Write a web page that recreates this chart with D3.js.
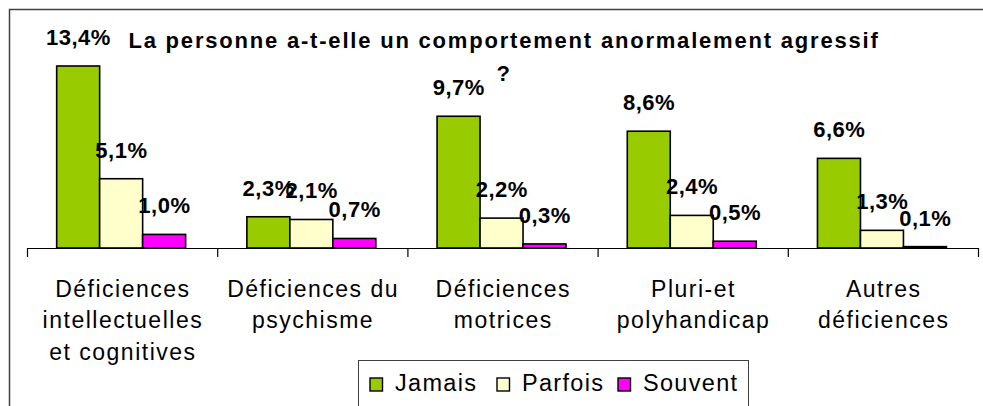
<!DOCTYPE html>
<html>
<head>
<meta charset="utf-8">
<script src="https://cdn.jsdelivr.net/npm/d3@7"></script>
<style>
  html, body { margin: 0; padding: 0; background: #fff; }
  svg { display: block; }
  text { font-family: "Liberation Sans", Arial, sans-serif; fill: #000; }
</style>
</head>
<body>
<svg id="chart" width="983" height="406"></svg>
<script>
// ---- data ----
const categories = [
  "Déficiences\nintellectuelles\net cognitives",
  "Déficiences du\npsychisme",
  "Déficiences\nmotrices",
  "Pluri-et\npolyhandicap",
  "Autres\ndéficiences"
];
const seriesNames = ["Jamais", "Parfois", "Souvent"];
const jamais  = [13.4, 2.3, 9.7, 8.6, 6.6];
const parfois = [5.1, 2.1, 2.2, 2.4, 1.3];
const souvent = [1.0, 0.7, 0.3, 0.5, 0.1];
const titleLines = ["La personne a-t-elle un comportement anormalement agressif", "?"];

// ---- styles ----
const colors = ["#99CC00", "#FFFFCC", "#FF00FF"];
const seriesValues = [jamais, parfois, souvent];
const fmt = v => v.toFixed(1).replace(".", ",") + "%";

const svg = d3.select("#chart");

// outer frame (top and left visible)
svg.append("path")
  .attr("d", "M9.5,406 L9.5,9.5 L983,9.5")
  .attr("fill", "none").attr("stroke", "#404040").attr("stroke-width", 1.5);

const x0 = d3.scaleBand().domain(d3.range(categories.length)).range([27, 978]).padding(0);
const bw = x0.bandwidth();
const x1 = d3.scaleBand().domain(d3.range(seriesNames.length))
  .range([bw * 0.156, bw * 0.834]).padding(0);
const y = d3.scaleLinear().domain([0, 13.4]).range([248, 66]);

// bars
const groups = svg.append("g").selectAll("g")
  .data(categories.map((c, i) => i))
  .join("g")
  .attr("transform", i => `translate(${x0(i)},0)`);

groups.selectAll("rect")
  .data(i => seriesValues.map((s, k) => ({k, v: s[i]})))
  .join("rect")
  .attr("x", d => x1(d.k))
  .attr("y", d => y(d.v))
  .attr("width", x1.bandwidth())
  .attr("height", d => y(0) - y(d.v))
  .attr("fill", d => colors[d.k])
  .attr("stroke", "#000")
  .attr("stroke-width", 1.6);

// data labels
groups.selectAll("text.lbl")
  .data(i => seriesValues.map((s, k) => ({k, v: s[i]})))
  .join("text")
  .attr("class", "lbl")
  .attr("x", d => x1(d.k) + x1.bandwidth() / 2 + 0.3)
  .attr("y", d => y(d.v) - 21)
  .attr("text-anchor", "middle")
  .style("font-size", "22px")
  .style("font-weight", "bold")
  .style("letter-spacing", "0.5px")
  .text(d => fmt(d.v));

// axis baseline with ticks between categories
const axis = d3.axisBottom(d3.scaleLinear().domain([0, categories.length]).range([27, 978]))
  .ticks(categories.length).tickSize(9).tickFormat("").tickSizeOuter(0);
const ax = svg.append("g").attr("transform", "translate(0,248)").call(axis);
ax.select(".domain").attr("stroke", "#000").attr("stroke-width", 1.2);
ax.selectAll(".tick line").attr("stroke", "#000").attr("stroke-width", 1.2);

// category labels
const catLabels = svg.append("g").selectAll("text")
  .data(categories)
  .join("text")
  .attr("text-anchor", "middle")
  .style("font-size", "23px")
  .style("letter-spacing", "1.5px")
  .attr("y", 296.5);
catLabels.each(function(c, i) {
  d3.select(this).selectAll("tspan")
    .data(c.split("\n"))
    .join("tspan")
    .attr("x", x0(i) + bw / 2 + 0.8)
    .attr("dy", (d, j) => j === 0 ? 0 : 31.5)
    .text(d => d);
});

// title
const title = svg.append("text")
  .attr("text-anchor", "middle")
  .style("font-size", "22px")
  .style("font-weight", "bold")
  .style("letter-spacing", "1.8px");
title.selectAll("tspan").data(titleLines).join("tspan")
  .attr("x", 504)
  .attr("y", (d, j) => 47.5 + j * 33)
  .text(d => d);

// legend
const lg = svg.append("g");
lg.append("rect")
  .attr("x", 358.5).attr("y", 360.5).attr("width", 390).attr("height", 60)
  .attr("fill", "#fff").attr("stroke", "#404040").attr("stroke-width", 1);
const legendX = [370, 497, 618];
const items = lg.selectAll("g.item").data(seriesNames).join("g")
  .attr("class", "item")
  .attr("transform", (d, i) => `translate(${legendX[i]},378)`);
items.append("rect")
  .attr("width", 12.5).attr("height", 13)
  .attr("fill", (d, i) => colors[i])
  .attr("stroke", "#000").attr("stroke-width", 1.4);
items.append("text")
  .attr("x", 25).attr("y", 13)
  .style("font-size", "23.5px")
  .style("letter-spacing", "1.3px")
  .text(d => d);
</script>
</body>
</html>
